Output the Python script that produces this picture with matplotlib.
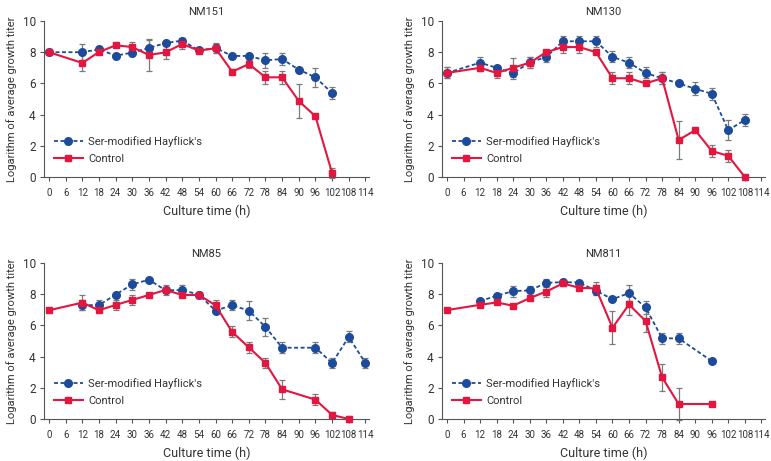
import numpy as np
import matplotlib.pyplot as plt

plt.rcParams['font.family'] = ['Roboto', 'DejaVu Sans']
plt.rcParams['font.size'] = 8

blue = '#1d4b9b'
red = '#e3163f'
grey = '#7a7a7a'

x_ticks = list(range(0, 115, 6))

# NM151
nm151_ser_t = [0, 12, 18, 24, 30, 36, 42, 48, 54, 60, 66, 72, 78, 84, 90, 96, 102]
nm151_ser_v = [8.0, 8.0, 8.18, 7.78, 7.97, 8.27, 8.59, 8.74, 8.12, 8.27, 7.76, 7.76, 7.48, 7.56, 6.88, 6.39, 5.38]
nm151_ser_e = [0, 0.5, 0.1, 0, 0.1, 0.5, 0, 0.15, 0.1, 0.3, 0.1, 0.1, 0.5, 0.4, 0, 0.6, 0.4]
nm151_ctl_t = [0, 12, 18, 24, 30, 36, 42, 48, 54, 60, 66, 72, 78, 84, 90, 96, 102]
nm151_ctl_v = [8.0, 7.31, 8.01, 8.44, 8.33, 7.82, 7.99, 8.53, 8.1, 8.25, 6.75, 7.24, 6.39, 6.39, 4.87, 3.89, 0.26]
nm151_ctl_e = [0, 0.5, 0.1, 0, 0.3, 1.0, 0.45, 0.35, 0.1, 0.3, 0.15, 0.25, 0.4, 0.4, 1.1, 0, 0.3]

# NM130
nm130_ser_t = [0, 12, 18, 24, 30, 36, 42, 48, 54, 60, 66, 72, 78, 84, 90, 96, 102, 108]
nm130_ser_v = [6.67, 7.33, 7.0, 6.65, 7.35, 7.69, 8.7, 8.7, 8.7, 7.7, 7.33, 6.67, 6.33, 6.0, 5.66, 5.33, 3.0, 3.66]
nm130_ser_e = [0.35, 0.35, 0.1, 0.35, 0.35, 0.35, 0.35, 0.35, 0.35, 0.35, 0.35, 0.35, 0.4, 0, 0.4, 0.4, 0.65, 0.4]
nm130_ctl_t = [0, 12, 18, 24, 30, 36, 42, 48, 54, 60, 66, 72, 78, 84, 90, 96, 102, 108]
nm130_ctl_v = [6.67, 7.0, 6.67, 7.0, 7.33, 8.0, 8.33, 8.33, 8.0, 6.33, 6.33, 6.0, 6.33, 2.37, 3.0, 1.67, 1.35, 0.0]
nm130_ctl_e = [0.35, 0.2, 0.35, 0.6, 0.35, 0.1, 0.35, 0.35, 0, 0.4, 0.4, 0, 0.4, 1.2, 0, 0.38, 0.38, 0]

# NM85
nm85_ser_t = [12, 18, 24, 30, 36, 42, 48, 54, 60, 66, 72, 78, 84, 96, 102, 108, 114]
nm85_ser_v = [7.3, 7.3, 7.97, 8.63, 8.93, 8.25, 8.27, 7.97, 6.94, 7.3, 6.94, 5.9, 4.57, 4.57, 3.59, 5.26, 3.59]
nm85_ser_e = [0.3, 0.3, 0, 0.35, 0, 0.1, 0.3, 0.15, 0.1, 0.3, 0.6, 0.55, 0.35, 0.35, 0.35, 0.35, 0.35]
nm85_ctl_t = [0, 12, 18, 24, 30, 36, 42, 48, 54, 60, 66, 72, 78, 84, 96, 102, 108]
nm85_ctl_v = [6.97, 7.46, 6.97, 7.31, 7.63, 7.95, 8.27, 7.95, 7.95, 7.29, 5.58, 4.59, 3.59, 1.9, 1.24, 0.26, 0.0]
nm85_ctl_e = [0, 0.5, 0, 0.35, 0.35, 0, 0.35, 0, 0.2, 0.35, 0.35, 0.35, 0.35, 0.6, 0.35, 0.2, 0.2]

# NM811
nm811_ser_t = [12, 18, 24, 30, 36, 42, 48, 54, 60, 66, 72, 78, 84, 96]
nm811_ser_v = [7.56, 7.9, 8.2, 8.24, 8.73, 8.77, 8.75, 8.22, 7.68, 8.07, 7.15, 5.17, 5.17, 3.71]
nm811_ser_e = [0, 0, 0.35, 0.3, 0.25, 0.1, 0.1, 0.3, 0, 0.5, 0.4, 0.35, 0.35, 0]
nm811_ctl_t = [0, 12, 18, 24, 30, 36, 42, 48, 54, 60, 66, 72, 78, 84, 96]
nm811_ctl_v = [6.98, 7.32, 7.47, 7.26, 7.75, 8.17, 8.69, 8.41, 8.37, 5.85, 7.34, 6.28, 2.67, 0.96, 0.96]
nm811_ctl_e = [0, 0.15, 0, 0, 0, 0.35, 0.15, 0.15, 0.4, 1.05, 0.65, 0.7, 0.85, 1.0, 0]

panels = [
    ("NM151", nm151_ser_t, nm151_ser_v, nm151_ser_e, nm151_ctl_t, nm151_ctl_v, nm151_ctl_e),
    ("NM130", nm130_ser_t, nm130_ser_v, nm130_ser_e, nm130_ctl_t, nm130_ctl_v, nm130_ctl_e),
    ("NM85", nm85_ser_t, nm85_ser_v, nm85_ser_e, nm85_ctl_t, nm85_ctl_v, nm85_ctl_e),
    ("NM811", nm811_ser_t, nm811_ser_v, nm811_ser_e, nm811_ctl_t, nm811_ctl_v, nm811_ctl_e),
]

W, H = 771, 461
# axes boxes in pixels: left, right, top, bottom
boxes = [(44, 369, 21, 177), (442, 765, 21, 177), (44, 369, 263, 419), (442, 765, 263, 419)]

fig = plt.figure(figsize=(W / 100, H / 100), dpi=100)

for (title, st, sv, se, ct, cv, ce), (l, r, t, b) in zip(panels, boxes):
    ax = fig.add_axes([l / W, 1 - b / H, (r - l) / W, (b - t) / H])

    ax.errorbar(st, sv, yerr=se, fmt='none', ecolor=grey, elinewidth=0.9, capsize=2, capthick=0.9, zorder=2, clip_on=False)
    ax.errorbar(ct, cv, yerr=ce, fmt='none', ecolor=grey, elinewidth=0.9, capsize=2, capthick=0.9, zorder=2, clip_on=False)
    ax.plot(st, sv, color=blue, linestyle=(0, (2.2, 1.4)), linewidth=1.3, marker='o', markersize=5.5,
            label="Ser-modified Hayflick's", zorder=3, clip_on=False)
    ax.plot(ct, cv, color=red, linestyle='-', linewidth=1.5, marker='s', markersize=5,
            label="Control", zorder=4, clip_on=False)

    ax.set_xlim(-1.8, 115.3)
    ax.set_ylim(0, 10)
    ax.set_xticks(x_ticks)
    ax.set_yticks([0, 2, 4, 6, 8, 10])
    ax.spines['top'].set_visible(False)
    ax.spines['right'].set_visible(False)
    for s in ['left', 'bottom']:
        ax.spines[s].set_color('#555555')
        ax.spines[s].set_linewidth(0.8)
    ax.tick_params(axis='both', length=3, width=0.8, color='#555555', labelcolor='#333333', pad=3)
    ax.tick_params(axis='x', pad=5, labelsize=7)
    ax.tick_params(axis='y', labelsize=8.5)
    ax.set_title(title, fontsize=8, color='#333333', pad=4)
    ax.set_xlabel("Culture time (h)", fontsize=9, color='#333333', labelpad=5)
    ax.set_ylabel("Logarithm of average growth titer", fontsize=8, color='#333333', labelpad=4)
    ax.legend(loc='lower left', bbox_to_anchor=(0.0, 0.02), frameon=False, fontsize=8,
              handlelength=2.6, handletextpad=0.5, labelspacing=0.6, labelcolor='#333333')

fig.savefig('out.png', dpi=100)
